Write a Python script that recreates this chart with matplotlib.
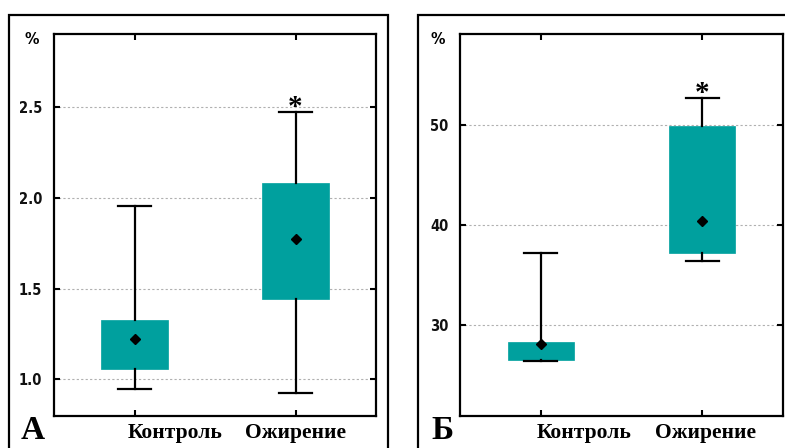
import matplotlib
matplotlib.use("Agg")
import matplotlib.pyplot as plt
import matplotlib.transforms as mtransforms
from matplotlib.patches import Rectangle
from matplotlib import font_manager
from matplotlib.font_manager import FontProperties

groups = ['Контроль', 'Ожирение']

# Panel A
a_q1 = [1.057, 1.443]
a_q3 = [1.327, 2.082]
a_mean = [1.222, 1.773]
a_lo = [0.947, 0.922]
a_hi = [1.957, 2.471]
a_ticks = [1.0, 1.5, 2.0, 2.5]
a_ticklabels = ['1.0', '1.5', '2.0', '2.5']

# Panel B
b_q1 = [26.5, 37.17]
b_q3 = [28.33, 49.93]
b_mean = [28.1, 40.43]
b_lo = [26.4, 36.43]
b_hi = [37.17, 52.67]
b_ticks = [30, 40, 50]
b_ticklabels = ['30', '40', '50']

TEAL = '#00A09E'
W, H = 785, 448

# pick a condensed bold sans if one exists
narrow_file = None
for f in font_manager.fontManager.ttflist:
    if f.name == 'Liberation Sans Narrow' and f.weight in (700, 'bold') and 'Italic' not in f.fname:
        narrow_file = f.fname
        break
if narrow_file is None:
    for f in font_manager.fontManager.ttflist:
        if f.name == 'DejaVu Sans' and 'Condensed-Bold.' in f.fname:
            narrow_file = f.fname
            break
if narrow_file is not None:
    TICKFP = FontProperties(fname=narrow_file, size=10.5)
else:
    TICKFP = FontProperties(family='Liberation Sans', weight='bold', size=11)
PCTFP = TICKFP.copy()
PCTFP.set_size(11.5)

fig = plt.figure(figsize=(W / 100, H / 100), dpi=100)

def px_axes(x0, y0, x1, y1):
    return fig.add_axes([x0 / W, 1 - y1 / H, (x1 - x0) / W, (y1 - y0) / H])

def frame(x0, y0, x1, y1):
    fig.patches.append(Rectangle((x0 / W, 1 - y1 / H), (x1 - x0) / W, (y1 - y0) / H,
                                 transform=fig.transFigure, fill=False,
                                 edgecolor='black', linewidth=1.6, zorder=0))

frame(9, 15, 388, 460)
frame(418, 15, 800, 460)

def panel(ax, q1, q3, mean, lo, hi, ticks, ticklabels, ylim, letter, letter_x, label_x):
    stats = []
    for i in range(len(groups)):
        stats.append(dict(q1=q1[i], q3=q3[i], med=mean[i], mean=mean[i],
                          whislo=lo[i], whishi=hi[i], fliers=[], label=groups[i]))
    ax.bxp(stats, positions=[0, 1], widths=0.41, capwidths=0.205,
           showmeans=True, patch_artist=True, showfliers=False,
           boxprops=dict(facecolor=TEAL, edgecolor=TEAL, linewidth=0.5),
           whiskerprops=dict(color='black', linewidth=1.6),
           capprops=dict(color='black', linewidth=1.6),
           medianprops=dict(linewidth=0),
           meanprops=dict(marker='D', markerfacecolor='black',
                          markeredgecolor='black', markersize=5.5))
    ax.set_xlim(-0.5, 1.5)
    ax.set_ylim(*ylim)
    ax.set_yticks(ticks)
    ax.set_yticklabels(ticklabels, fontproperties=TICKFP, color='#111111')
    ax.set_xticks([0, 1])
    ax.set_xticklabels([])
    trans = mtransforms.blended_transform_factory(ax.transData, ax.transAxes)
    for x, g in zip(label_x, groups):
        ax.text(x, -0.045, g, transform=trans, ha='center', va='center',
                fontfamily='Liberation Serif', fontweight='bold', fontsize=15.5)
    ax.tick_params(axis='y', direction='in', length=4, width=1.5,
                   right=True, pad=8.5)
    ax.tick_params(axis='x', direction='in', length=4, width=1.5,
                   top=True)
    ax.grid(axis='y', linestyle=(0, (2, 2)), color='#b0b0b0', linewidth=0.8)
    ax.set_axisbelow(True)
    for s in ax.spines.values():
        s.set_linewidth(1.6)
    ax.annotate('*', xy=(1, hi[1]), xytext=(0, -6), textcoords='offset points',
                ha='center', va='bottom', fontsize=21, fontweight='bold',
                fontfamily='Liberation Serif')
    fig.text(letter_x / W, 1 - 439 / H, letter, fontsize=24, fontweight='bold',
             fontfamily='Liberation Serif', ha='left', va='baseline')
    bb = ax.get_position()
    fig.text(bb.x0 - 22 / W, 1 - 40 / H, '%', fontproperties=PCTFP,
             ha='center', va='center')

axA = px_axes(54, 34, 376, 416)
panel(axA, a_q1, a_q3, a_mean, a_lo, a_hi, a_ticks, a_ticklabels,
      (0.798, 2.902), 'A', 21, [0.25, 1.0])

axB = px_axes(460, 34, 783, 416)
panel(axB, b_q1, b_q3, b_mean, b_lo, b_hi, b_ticks, b_ticklabels,
      (20.9, 59.1), 'Б', 431, [0.27, 1.02])

fig.savefig('out.png', dpi=100)
